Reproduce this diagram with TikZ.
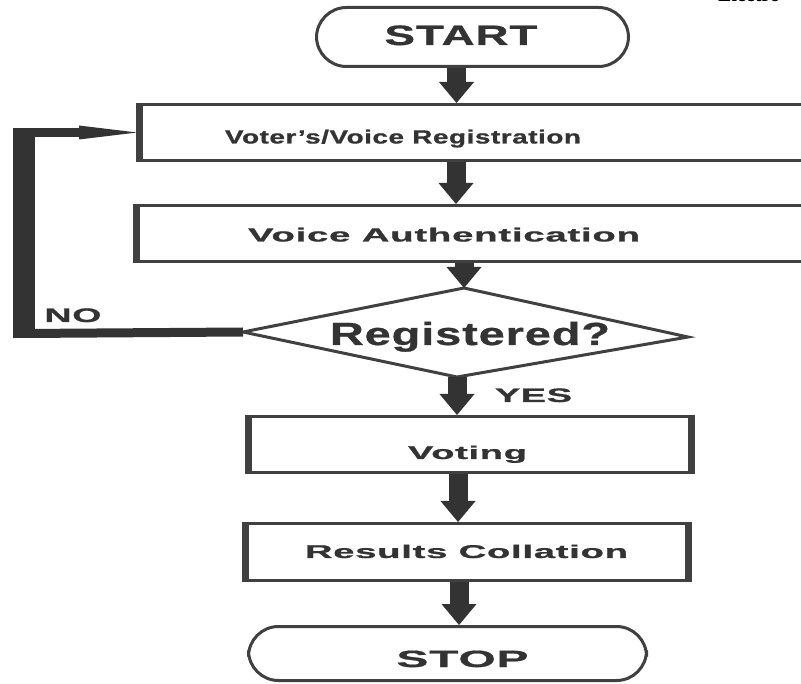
\documentclass[tikz,border=0pt]{standalone}
\usepackage{fontspec}
\setmainfont{Liberation Serif}
\newfontfamily\lab[LetterSpace=2,FakeBold=0.8]{Liberation Sans}
\usetikzlibrary{arrows.meta}
\definecolor{ink}{HTML}{333333}
\definecolor{edgec}{HTML}{404040}
\newsavebox\lblbox
\newlength\lblw
\newcommand\fitw[3]{{\fontsize{#1}{#1}\lab\bfseries\sbox\lblbox{#3}\setlength\lblw{\wd\lblbox}\pgfmathsetmacro\fxs{#2/\lblw}\scalebox{\fxs}[1]{\usebox\lblbox}}}
\tikzset{
  term/.style={draw=edgec, line width=3pt, fill=white, rounded corners=30pt, inner sep=0pt},
  box/.style={draw=edgec, line width=3pt, fill=white, inner sep=0pt},
  lbl/.style={anchor=base, inner sep=0pt, text=ink},
  bigarrow/.style={draw=ink, line width=19pt, -{Triangle[width=35pt,length=21pt,line width=0pt]}},
  thin/.style={draw=ink, line width=9pt},
  thickedge/.style={draw=edgec, line width=7pt}
}
\begin{document}
\begin{tikzpicture}[x=1pt,y=-1pt]
\useasboundingbox (0,0) rectangle (801,684);
\clip (0,0) rectangle (801,684);
\fill[white] (0,0) rectangle (801,684);

% cut-off header text
\node[anchor=base west, inner sep=0pt, font=\fontsize{20}{20}\selectfont\bfseries] (hdr) at (718,2) {Electro};

% shapes
\node[term, minimum width=312pt, minimum height=59pt] (start) at (472.5,37) {};
\node[box, minimum width=690pt, minimum height=56pt] (reg) at (483.5,132.5) {};
\node[box, minimum width=693pt, minimum height=56pt] (auth) at (482,233.5) {};
\coordinate (dtop) at (464,288);
\coordinate (dright) at (688,337);
\coordinate (dbot) at (457,377);
\coordinate (dleft) at (243,332);
\draw[draw=edgec, line width=3pt, fill=white, line join=miter] (dtop) -- (dright) -- (dbot) -- (dleft) -- cycle;
\node[box, minimum width=444pt, minimum height=56pt] (vote) at (469.5,444.5) {};
\node[box, minimum width=444pt, minimum height=57pt] (res) at (466.5,552) {};
\node[term, minimum width=398pt, minimum height=54pt] (stop) at (447.5,653.5) {};

% thick side edges
\draw[thickedge] ([xshift=2pt]reg.north west) -- ([xshift=2pt]reg.south west);
\draw[thickedge] ([xshift=2pt]auth.north west) -- ([xshift=2pt]auth.south west);
\draw[thickedge] ([xshift=2pt]vote.north west) -- ([xshift=2pt]vote.south west);
\draw[thickedge] ([xshift=-2pt]vote.north east) -- ([xshift=-2pt]vote.south east);
\draw[thickedge] ([xshift=2pt]res.north west) -- ([xshift=2pt]res.south west);
\draw[thickedge] ([xshift=-2pt]res.north east) -- ([xshift=-2pt]res.south east);

% arrow columns
\coordinate (a1) at (456.5,0);
\coordinate (a2) at (456,0);
\coordinate (a5) at (458,0);
\coordinate (a6) at (459,0);

\draw[bigarrow] (start.south -| a1) -- (reg.north -| a1);
\draw[bigarrow] (reg.south -| a2) -- (auth.north -| a2);
\draw[bigarrow] (auth.south -| dtop) -- (dtop);
\draw[bigarrow] (dbot) -- (vote.north -| dbot);
\draw[bigarrow] (vote.south -| a5) -- (res.north -| a5);
\draw[bigarrow] (res.south -| a6) -- (stop.north -| a6);

% NO loop
\coordinate (cb) at (24,333.5);
\coordinate (ct) at (24,132.5);
\draw[thin] (dleft) -- (cb);
\fill[ink] ([shift={(-11,4.5)}]cb) rectangle ([shift={(11,-4.5)}]ct);
\draw[thin, -{Triangle[width=14pt,length=58pt,line width=0pt]}] (ct) -- (reg.west);

% labels
\node[lbl] (tstart) at (461,45) {\fitw{28}{153}{START}};
\node[lbl] (treg) at (403,143.5) {\fitw{19}{356}{Voter’s/Voice Registration}};
\node[lbl] (tauth) at (444,241.5) {\fitw{19}{392}{Voice Authentication}};
\node[lbl] (tdec) at (470,345) {\fitw{32}{280}{Registered?}};
\node[lbl] (tno) at (73,322) {\fitw{19.5}{57}{NO}};
\node[lbl] (tyes) at (533.5,402) {\fitw{19.5}{77}{YES}};
\node[lbl] (tvote) at (467.5,459) {\fitw{18.5}{119}{Voting}};
\node[lbl] (tres) at (466.5,558) {\fitw{18.5}{323}{Results Collation}};
\node[lbl] (tstop) at (462.5,667) {\fitw{23.5}{132}{STOP}};
\end{tikzpicture}
\end{document}
